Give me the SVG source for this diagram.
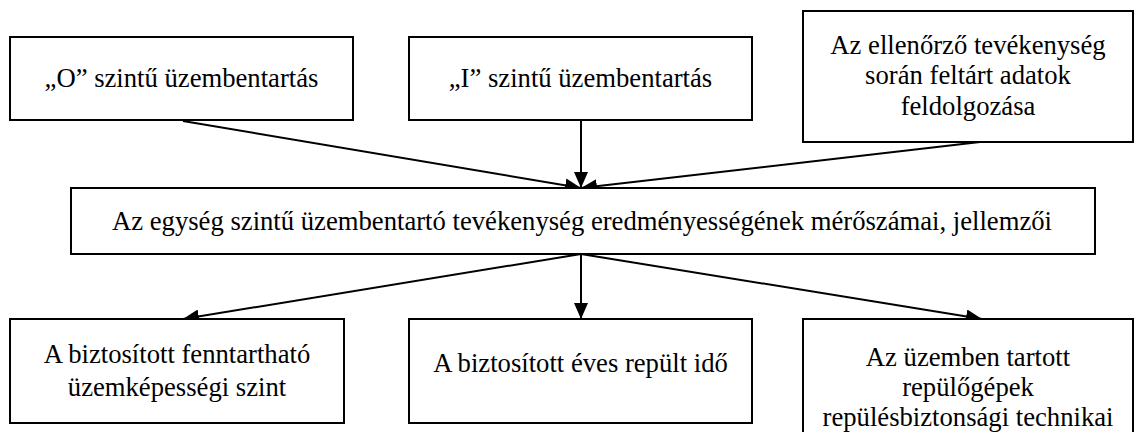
<svg xmlns="http://www.w3.org/2000/svg" width="1136" height="432" viewBox="0 0 1136 432">
<style>
.box{fill:#fff;stroke:#000;stroke-width:2}
.c{stroke:#000;stroke-width:2;fill:none;marker-end:url(#ah)}
text{font-family:"Liberation Serif","Times New Roman",serif;font-size:26.67px;fill:#000;text-anchor:middle}
</style>
<defs>
<marker id="ah" markerUnits="userSpaceOnUse" markerWidth="16" markerHeight="14" refX="16" refY="7" orient="auto">
<path d="M0,0 L16,7 L0,14 Z" fill="#000"/>
</marker>
</defs>
<rect width="1136" height="432" fill="#fff"/>
<g id="connectors">
<line class="c" x1="183" y1="121" x2="581" y2="188"/>
<line class="c" x1="581" y1="121" x2="581" y2="188"/>
<line class="c" x1="980" y1="142" x2="581" y2="188"/>
<line class="c" x1="581" y1="254" x2="183" y2="319"/>
<line class="c" x1="581" y1="254" x2="581" y2="319"/>
<line class="c" x1="581" y1="254" x2="982" y2="319"/>
</g>
<g id="n-o">
<rect class="box" x="10" y="37" width="343" height="83"/>
<text x="181.5" y="87">„O” szintű üzembentartás</text>
</g>
<g id="n-i">
<rect class="box" x="409" y="37" width="343" height="83"/>
<text x="580.5" y="87">„I” szintű üzembentartás</text>
</g>
<g id="n-ell">
<rect class="box" x="803" y="11" width="330" height="131"/>
<text x="968" y="54">Az ellenőrző tevékenység</text>
<text x="968" y="84">során feltárt adatok</text>
<text x="968" y="115">feldolgozása</text>
</g>
<g id="n-mid">
<rect class="box" x="71" y="188" width="1024" height="66"/>
<text x="582" y="230">Az egység szintű üzembentartó tevékenység eredményességének mérőszámai, jellemzői</text>
</g>
<g id="n-a">
<rect class="box" x="10" y="319" width="334" height="104"/>
<text x="177" y="363">A biztosított fenntartható</text>
<text x="177" y="396">üzemképességi szint</text>
</g>
<g id="n-b">
<rect class="box" x="409" y="319" width="343" height="104"/>
<text x="580.5" y="372">A biztosított éves repült idő</text>
</g>
<g id="n-c">
<rect class="box" x="803" y="319" width="330" height="130"/>
<text x="968" y="366">Az üzemben tartott</text>
<text x="968" y="396">repülőgépek</text>
<text x="968" y="426">repülésbiztonsági technikai</text>
</g>
</svg>
